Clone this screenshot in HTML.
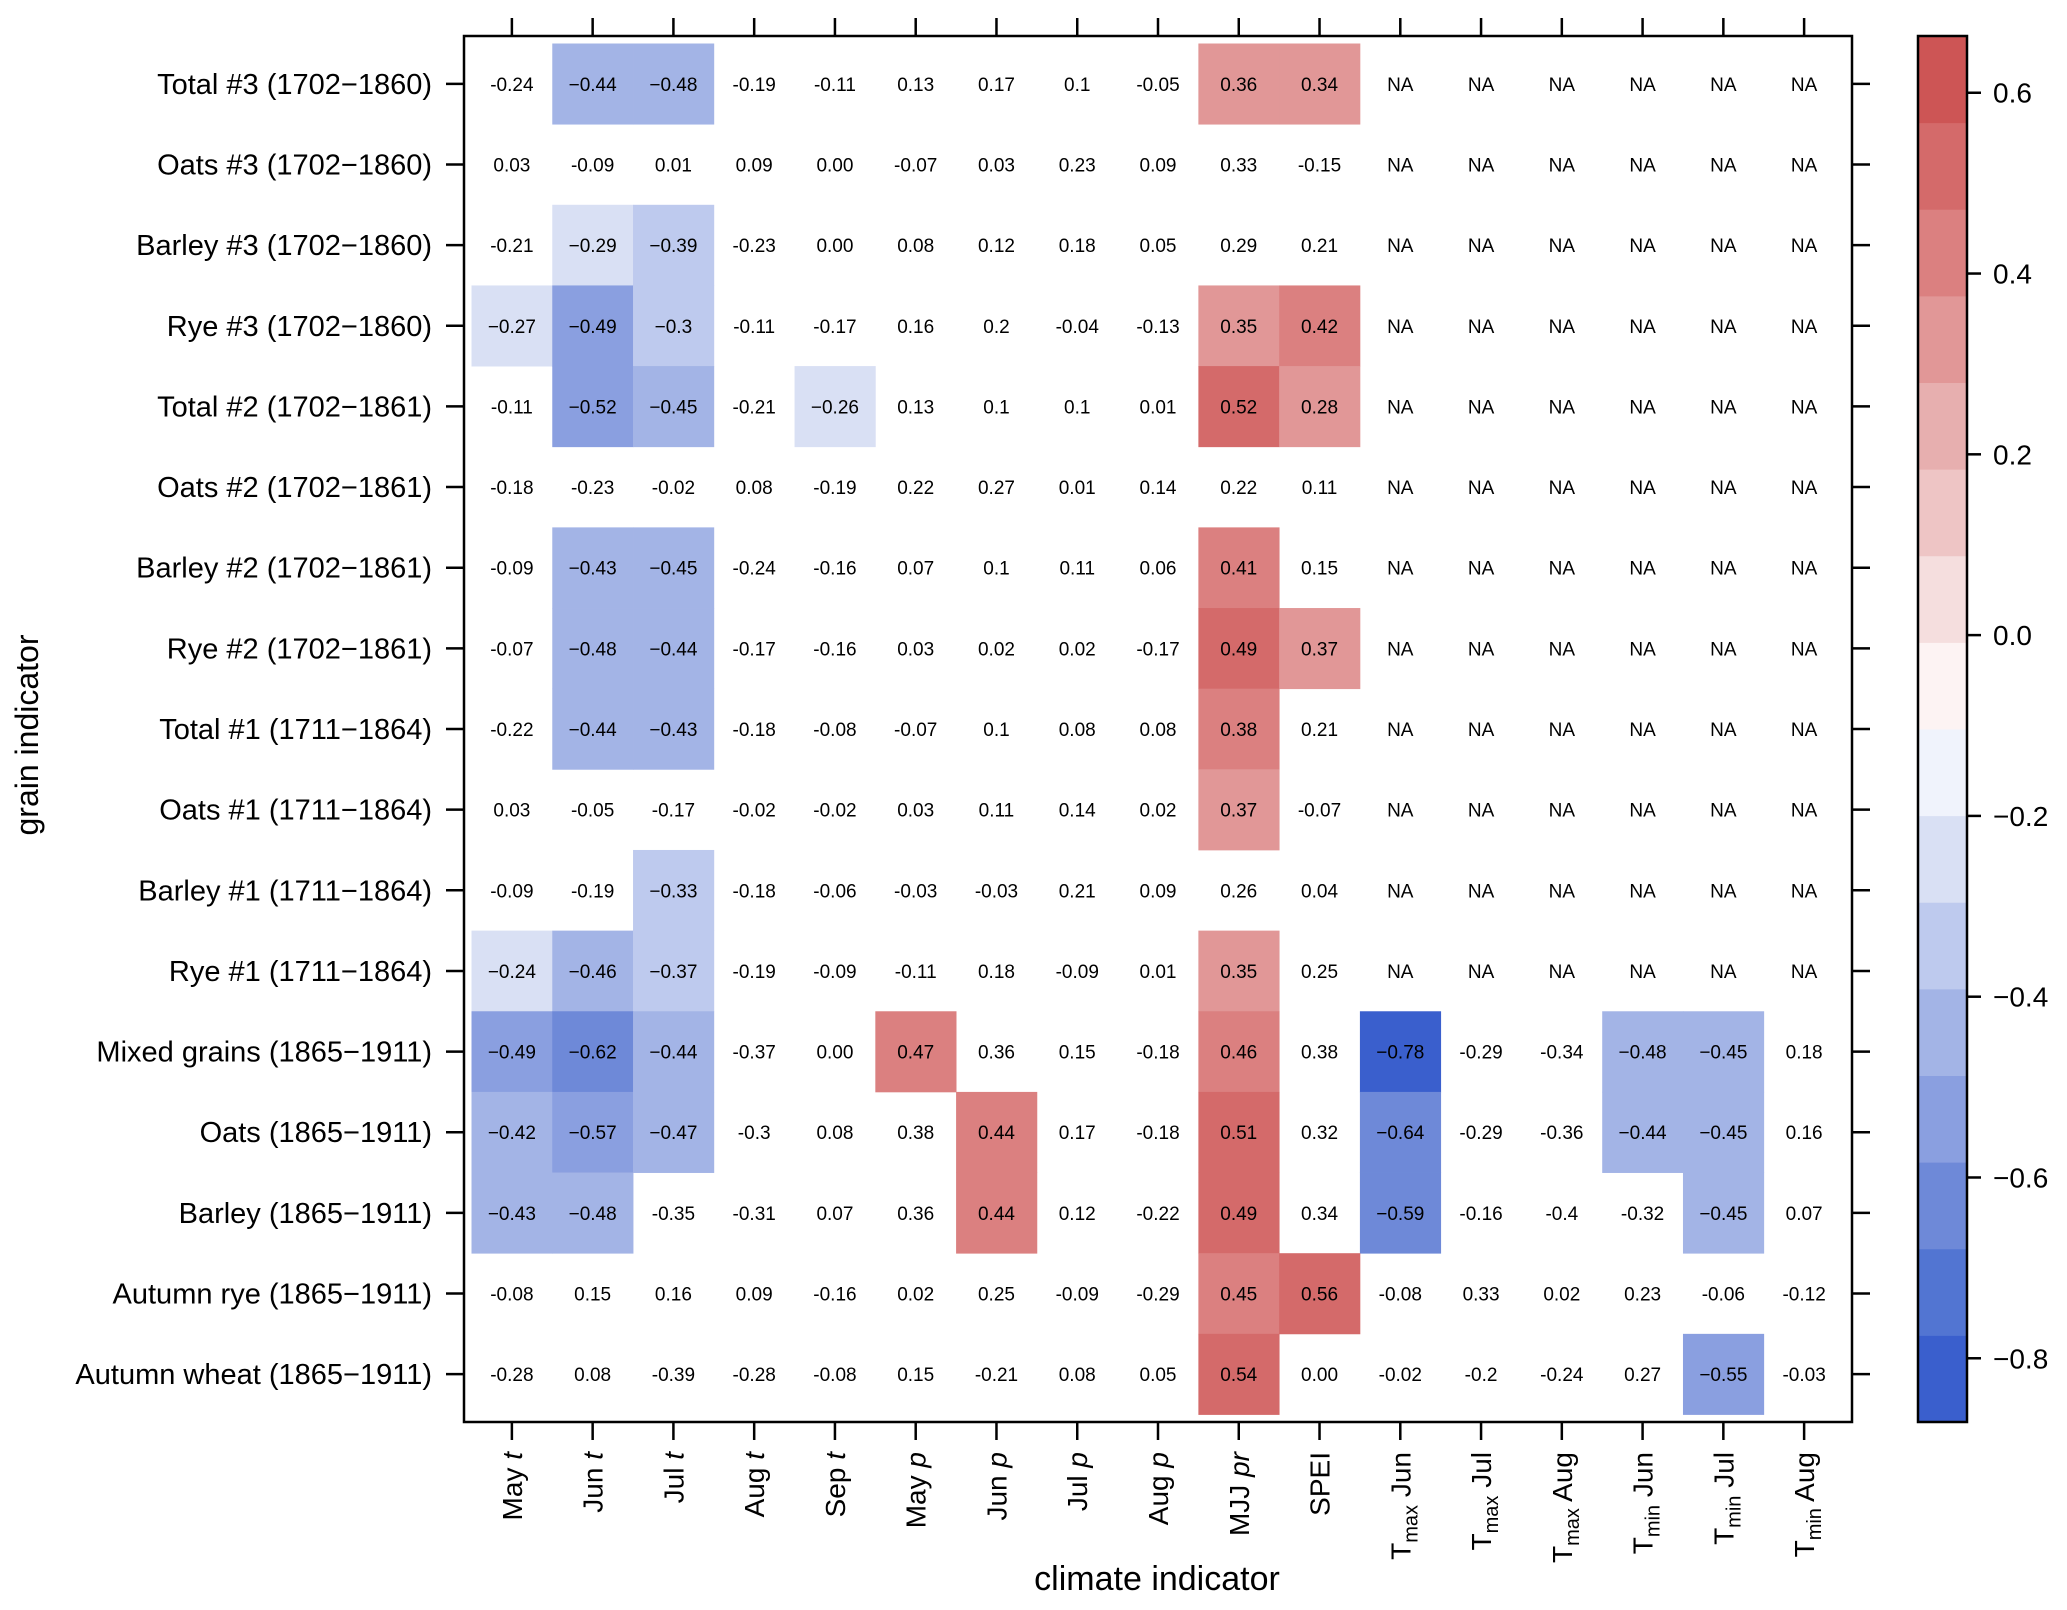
<!DOCTYPE html>
<html><head><meta charset="utf-8"><style>
html,body{margin:0;padding:0;background:#fff;}
svg{display:block;font-family:"Liberation Sans",Arial,sans-serif;}
</style></head><body>
<svg id="chart" width="2067" height="1610" viewBox="0 0 2067 1610" xmlns="http://www.w3.org/2000/svg"></svg>
<script>
const rowLabels = ["Total #3 (1702\u22121860)","Oats #3 (1702\u22121860)","Barley #3 (1702\u22121860)","Rye #3 (1702\u22121860)","Total #2 (1702\u22121861)","Oats #2 (1702\u22121861)","Barley #2 (1702\u22121861)","Rye #2 (1702\u22121861)","Total #1 (1711\u22121864)","Oats #1 (1711\u22121864)","Barley #1 (1711\u22121864)","Rye #1 (1711\u22121864)","Mixed grains (1865\u22121911)","Oats (1865\u22121911)","Barley (1865\u22121911)","Autumn rye (1865\u22121911)","Autumn wheat (1865\u22121911)"];
const colLabels = [["May ","t",""],["Jun ","t",""],["Jul ","t",""],["Aug ","t",""],["Sep ","t",""],["May ","p",""],["Jun ","p",""],["Jul ","p",""],["Aug  ","p",""],["MJJ ","pr",""],["SPEI","",""],["T","max"," Jun"],["T","max"," Jul"],["T","max"," Aug"],["T","min"," Jun"],["T","min"," Jul"],["T","min"," Aug"]];
const N = null;
const values = [
[-0.24,-0.44,-0.48,-0.19,-0.11,0.13,0.17,0.1,-0.05,0.36,0.34,N,N,N,N,N,N],
[0.03,-0.09,0.01,0.09,0.00,-0.07,0.03,0.23,0.09,0.33,-0.15,N,N,N,N,N,N],
[-0.21,-0.29,-0.39,-0.23,0.00,0.08,0.12,0.18,0.05,0.29,0.21,N,N,N,N,N,N],
[-0.27,-0.49,-0.3,-0.11,-0.17,0.16,0.2,-0.04,-0.13,0.35,0.42,N,N,N,N,N,N],
[-0.11,-0.52,-0.45,-0.21,-0.26,0.13,0.1,0.1,0.01,0.52,0.28,N,N,N,N,N,N],
[-0.18,-0.23,-0.02,0.08,-0.19,0.22,0.27,0.01,0.14,0.22,0.11,N,N,N,N,N,N],
[-0.09,-0.43,-0.45,-0.24,-0.16,0.07,0.1,0.11,0.06,0.41,0.15,N,N,N,N,N,N],
[-0.07,-0.48,-0.44,-0.17,-0.16,0.03,0.02,0.02,-0.17,0.49,0.37,N,N,N,N,N,N],
[-0.22,-0.44,-0.43,-0.18,-0.08,-0.07,0.1,0.08,0.08,0.38,0.21,N,N,N,N,N,N],
[0.03,-0.05,-0.17,-0.02,-0.02,0.03,0.11,0.14,0.02,0.37,-0.07,N,N,N,N,N,N],
[-0.09,-0.19,-0.33,-0.18,-0.06,-0.03,-0.03,0.21,0.09,0.26,0.04,N,N,N,N,N,N],
[-0.24,-0.46,-0.37,-0.19,-0.09,-0.11,0.18,-0.09,0.01,0.35,0.25,N,N,N,N,N,N],
[-0.49,-0.62,-0.44,-0.37,0.00,0.47,0.36,0.15,-0.18,0.46,0.38,-0.78,-0.29,-0.34,-0.48,-0.45,0.18],
[-0.42,-0.57,-0.47,-0.3,0.08,0.38,0.44,0.17,-0.18,0.51,0.32,-0.64,-0.29,-0.36,-0.44,-0.45,0.16],
[-0.43,-0.48,-0.35,-0.31,0.07,0.36,0.44,0.12,-0.22,0.49,0.34,-0.59,-0.16,-0.4,-0.32,-0.45,0.07],
[-0.08,0.15,0.16,0.09,-0.16,0.02,0.25,-0.09,-0.29,0.45,0.56,-0.08,0.33,0.02,0.23,-0.06,-0.12],
[-0.28,0.08,-0.39,-0.28,-0.08,0.15,-0.21,0.08,0.05,0.54,0.00,-0.02,-0.2,-0.24,0.27,-0.55,-0.03]];
const significant = [
[0,1,1,0,0,0,0,0,0,1,1,0,0,0,0,0,0],
[0,0,0,0,0,0,0,0,0,0,0,0,0,0,0,0,0],
[0,1,1,0,0,0,0,0,0,0,0,0,0,0,0,0,0],
[1,1,1,0,0,0,0,0,0,1,1,0,0,0,0,0,0],
[0,1,1,0,1,0,0,0,0,1,1,0,0,0,0,0,0],
[0,0,0,0,0,0,0,0,0,0,0,0,0,0,0,0,0],
[0,1,1,0,0,0,0,0,0,1,0,0,0,0,0,0,0],
[0,1,1,0,0,0,0,0,0,1,1,0,0,0,0,0,0],
[0,1,1,0,0,0,0,0,0,1,0,0,0,0,0,0,0],
[0,0,0,0,0,0,0,0,0,1,0,0,0,0,0,0,0],
[0,0,1,0,0,0,0,0,0,0,0,0,0,0,0,0,0],
[1,1,1,0,0,0,0,0,0,1,0,0,0,0,0,0,0],
[1,1,1,0,0,1,0,0,0,1,0,1,0,0,1,1,0],
[1,1,1,0,0,0,1,0,0,1,0,1,0,0,1,1,0],
[1,1,0,0,0,0,1,0,0,1,0,1,0,0,0,1,0],
[0,0,0,0,0,0,0,0,0,1,1,0,0,0,0,0,0],
[0,0,0,0,0,0,0,0,0,1,0,0,0,0,0,1,0]];
const legendTicks = [0.6,0.4,0.2,0.0,-0.2,-0.4,-0.6,-0.8];
const legendTickLabels = ["0.6","0.4","0.2","0.0","\u22120.2","\u22120.4","\u22120.6","\u22120.8"];
const palette = ["#3A5FCD","#5275D2","#6E89D8","#8A9FE0","#A3B4E6","#BECAEE","#D9E0F4","#F0F3FC","#FDF3F3","#F5DEDE","#EEC5C5","#E7AFAF","#E19797","#DB8080","#D46A6A","#CD5555"];
const breakMin = -0.8705, breakStep = 0.09583;

const svg = document.getElementById('chart');
const NS = 'http://www.w3.org/2000/svg';
function mk(tag, attrs, parent){const e=document.createElementNS(NS,tag);for(const k in attrs)e.setAttribute(k,attrs[k]);(parent||svg).appendChild(e);return e;}

const L=464,R=1852,T=36,B=1422,pad=7.5;
const nC=17,nR=17;
const cw=(R-L-2*pad)/nC, rh=(B-T-2*pad)/nR;
const xPos=c=>L+pad+cw*(c+0.5);
const yPos=r=>T+pad+rh*(r+0.5);
const binOf=v=>Math.max(0,Math.min(palette.length-1,Math.floor((v-breakMin)/breakStep)));
const fmt=(v,sig)=>{let s=(v===0)?"0.00":String(Math.abs(v));if(v<0)s=(sig?"\u2212":"-")+s;return s;};

const cells=mk('g',{});


for(let r=0;r<nR;r++){for(let c=0;c<nC;c++){
  const v=values[r][c];
  if(v!==null && significant[r][c]){
    const rc=mk('rect',{x:xPos(c)-cw/2,y:yPos(r)-rh/2,width:cw+0.4,height:rh+0.4,fill:palette[binOf(v)]},cells);
    
    
  }
}}
for(let r=0;r<nR;r++){for(let c=0;c<nC;c++){
  const v=values[r][c];
  const t=mk('text',{x:xPos(c),y:yPos(r)+7,'text-anchor':'middle','font-size':19,fill:'#000'},cells);
  t.textContent = v===null ? "NA" : fmt(v,significant[r][c]);
  
  
}}

const fr=mk('rect',{x:L,y:T,width:R-L,height:B-T,fill:'none',stroke:'#000','stroke-width':2.5});



const ax=mk('g',{stroke:'#000','stroke-width':2.5});


for(let c=0;c<nC;c++){
  mk('line',{x1:xPos(c),x2:xPos(c),y1:T,y2:T-18},ax);
  mk('line',{x1:xPos(c),x2:xPos(c),y1:B,y2:B+18},ax);
}
for(let r=0;r<nR;r++){
  mk('line',{x1:L,x2:L-18,y1:yPos(r),y2:yPos(r)},ax);
  mk('line',{x1:R,x2:R+18,y1:yPos(r),y2:yPos(r)},ax);
}
for(let r=0;r<nR;r++){
  const t=mk('text',{x:L-32,y:yPos(r)+10,'text-anchor':'end','font-size':29});
  t.textContent=rowLabels[r];
  
  
}
for(let c=0;c<nC;c++){
  const x=xPos(c)+10, y=1452;
  const t=mk('text',{x:0,y:0,'text-anchor':'end','font-size':28,transform:`translate(${x},${y}) rotate(-90)`});
  
  
  const p=colLabels[c];
  if(p[0]==='T'){
    const a=mk('tspan',{},t);a.textContent='T';
    const b=mk('tspan',{'font-size':20,dy:7},t);b.textContent=p[1];
    const d=mk('tspan',{dy:-7},t);d.textContent=p[2];
  } else {
    const a=mk('tspan',{},t);a.textContent=p[0];a.setAttribute('xml:space','preserve');
    if(p[1]){const b=mk('tspan',{'font-style':'italic'},t);b.textContent=p[1];}
  }
}
const xt=mk('text',{x:1157,y:1590,'text-anchor':'middle','font-size':34});
xt.textContent='climate indicator';


const yt=mk('text',{x:0,y:0,'text-anchor':'middle','font-size':32,transform:'translate(38,735) rotate(-90)'});
yt.textContent='grain indicator';



const CL=1918,CR=1967;
const vTop=breakMin+breakStep*palette.length, vBot=breakMin;
const cy=v=>T+(vTop-v)/(vTop-vBot)*(B-T);
const cb=mk('g',{});


for(let i=0;i<palette.length;i++){
  const lo=breakMin+i*breakStep, hi=lo+breakStep;
  const rc=mk('rect',{x:CL,y:cy(hi),width:CR-CL,height:cy(lo)-cy(hi)+0.5,fill:palette[i]},cb);
  
  
}
mk('rect',{x:CL,y:T,width:CR-CL,height:B-T,fill:'none',stroke:'#000','stroke-width':2.5},cb);
for(let i=0;i<legendTicks.length;i++){
  const y=cy(legendTicks[i]);
  mk('line',{x1:CR,x2:CR+14,y1:y,y2:y,stroke:'#000','stroke-width':2.5},cb);
  const t=mk('text',{x:CR+26,y:y+10,'font-size':28},cb);
  t.textContent=legendTickLabels[i];
  
  
}
</script>
</body></html>
